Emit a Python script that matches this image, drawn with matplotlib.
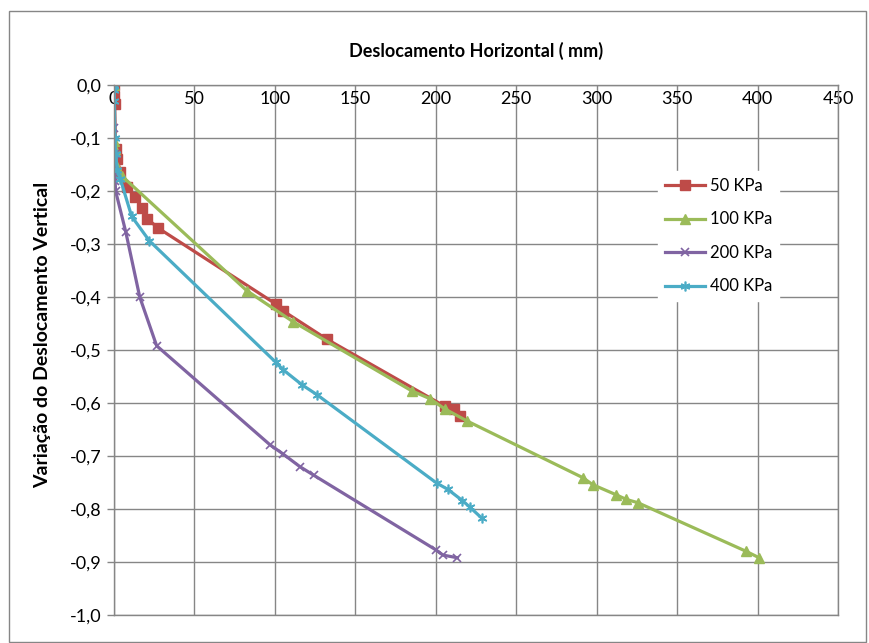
import numpy as np
import matplotlib
matplotlib.use("Agg")
import matplotlib.pyplot as plt
from matplotlib.patches import Rectangle

plt.rcParams['font.family'] = ['Lato', 'DejaVu Sans']

# Deslocamento horizontal (mm) / variação do deslocamento vertical
x_50 = [0, 0.2, 0.4, 1, 2, 4, 8, 13, 17.5, 20.5, 27.5, 100.5, 105, 132.5, 205.5, 211.5, 215]
y_50 = [0, -0.02, -0.035, -0.12, -0.14, -0.165, -0.192, -0.211, -0.233, -0.252, -0.27,
        -0.413, -0.426, -0.48, -0.606, -0.612, -0.625]

x_100 = [0, 0, 0.5, 1.5, 5, 82.5, 111.5, 185, 196.5, 205.5, 219.5, 291.5, 297.5, 312, 318.5,
         325.5, 393, 401]
y_100 = [0, -0.105, -0.12, -0.15, -0.172, -0.388, -0.447, -0.577, -0.592, -0.611, -0.634,
         -0.741, -0.754, -0.773, -0.782, -0.788, -0.88, -0.892]

x_200 = [0, 0, 0.5, 0.5, 0.7, 1, 7.3, 16, 26.5, 97, 105, 115.5, 124, 200, 204.5, 213.5]
y_200 = [0, -0.082, -0.13, -0.163, -0.182, -0.2, -0.277, -0.4, -0.492, -0.679, -0.696,
         -0.72, -0.736, -0.877, -0.887, -0.892]

x_400 = [0, 0, 0.3, 0.5, 1, 2, 4, 11, 22, 100.5, 105, 117, 126, 200.5, 207.5, 216.5, 221, 228.5]
y_400 = [0, -0.01, -0.03, -0.1, -0.13, -0.16, -0.178, -0.248, -0.294, -0.523, -0.537, -0.566,
         -0.584, -0.751, -0.763, -0.784, -0.796, -0.817]

labels = ["50 KPa", "100 KPa", "200 KPa", "400 KPa"]
x_ticks = list(range(0, 451, 50))
y_ticks = [round(-0.1 * i, 1) for i in range(10, -1, -1)]

grid_color = "#868686"

fig = plt.figure(figsize=(8.69, 6.43), dpi=100)
ax = fig.add_axes([114 / 869, 1 - 615 / 643, (838 - 114) / 869, (615 - 85) / 643])

ax.plot(x_50, y_50, color="#BE4B48", lw=2.3, marker="s", ms=6.5, label=labels[0])
ax.plot(x_100, y_100, color="#9BBB59", lw=2.3, marker="^", ms=7.5, label=labels[1])
ax.plot(x_200, y_200, color="#8064A2", lw=2.3, marker="x", ms=6, mew=1.2, label=labels[2])
ax.plot(x_400, y_400, color="#4BACC6", lw=2.3, marker=(6, 2, 0), ms=7, mew=1.2, label=labels[3])

ax.set_xlim(0, 450)
ax.set_ylim(-1, 0)
ax.set_xticks(x_ticks)
ax.set_yticks(y_ticks)
ax.set_yticklabels([f"{v:.1f}".replace(".", ",") if v != 0 else "0,0" for v in y_ticks])
ax.xaxis.tick_top()
ax.tick_params(axis="x", length=0, pad=-16, labelsize=13)
ax.tick_params(axis="y", length=5, width=1, color=grid_color, labelsize=13, pad=4)
ax.grid(True, color=grid_color, lw=1)
ax.set_axisbelow(True)
for s in ax.spines.values():
    s.set_color(grid_color)
    s.set_linewidth(1)

leg = ax.legend(loc="upper left", bbox_to_anchor=(650 / 869, 1 - 163 / 643),
                bbox_transform=fig.transFigure, frameon=True, fancybox=False,
                edgecolor="white", framealpha=1, fontsize=12, handlelength=2.4,
                labelspacing=1.05, borderpad=0.4, handletextpad=0.3)

fig.text(476 / 869, 1 - 51 / 643, "Deslocamento Horizontal ( mm)", ha="center", va="center",
         fontsize=13, fontweight="bold")
fig.text(43 / 869, 1 - 335 / 643, "Variação do Deslocamento Vertical", ha="center",
         va="center", rotation=90, fontsize=14, fontweight="bold")

fig.patches.append(Rectangle((9 / 869, 1 / 643), 857 / 869, 631 / 643, transform=fig.transFigure,
                             fill=False, edgecolor=grid_color, lw=1))

fig.savefig("out.png", dpi=100)
